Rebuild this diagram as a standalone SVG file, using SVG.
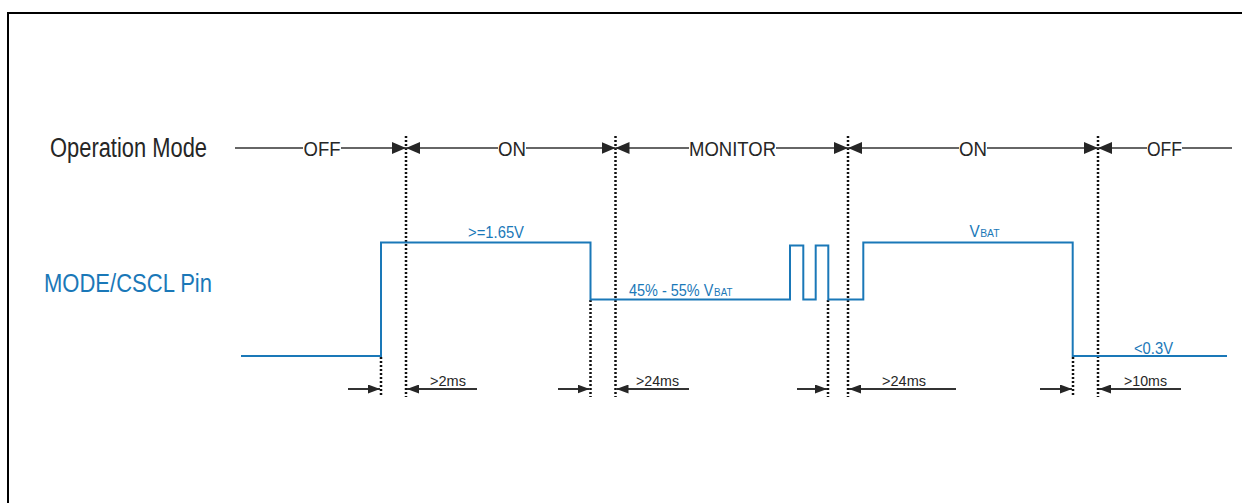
<svg xmlns="http://www.w3.org/2000/svg" width="1242" height="503" viewBox="0 0 1242 503">
  <style>
    .lbl { font-family: "Liberation Sans", Arial, sans-serif; fill: #262626; }
    .blue { font-family: "Liberation Sans", Arial, sans-serif; fill: #1a78b8; }
    .axis { stroke: #333333; stroke-width: 1.5; fill: none; }
    .tarr { stroke: #333333; stroke-width: 2; fill: none; }
    .dot { stroke: #111111; stroke-width: 2.5; stroke-dasharray: 2 2; fill: none; }
    .wave { stroke: #1a78b8; stroke-width: 2; fill: none; }
  </style>
  <defs>
    <marker id="ah" markerUnits="userSpaceOnUse" markerWidth="14" markerHeight="12" refX="14" refY="6" orient="auto-start-reverse">
      <path d="M0,0 L14,6 L0,12 Z" fill="#262626"/>
    </marker>
    <marker id="sa" markerUnits="userSpaceOnUse" markerWidth="12" markerHeight="9" refX="12" refY="4.5" orient="auto-start-reverse">
      <path d="M0,0 L12,4.5 L0,9 Z" fill="#262626"/>
    </marker>
  </defs>
  <rect x="8" y="13" width="1250" height="500" fill="#ffffff" stroke="#000000" stroke-width="2"/>

  <g id="row-labels">
    <text class="lbl" x="50" y="157" font-size="27" textLength="157" lengthAdjust="spacingAndGlyphs">Operation Mode</text>
    <text class="blue" x="44" y="292" font-size="26" textLength="168" lengthAdjust="spacingAndGlyphs">MODE/CSCL Pin</text>
  </g>

  <g id="boundaries">
    <line class="dot" x1="406" y1="136" x2="406" y2="397"/>
    <line class="dot" x1="615.5" y1="136" x2="615.5" y2="397"/>
    <line class="dot" x1="848" y1="136" x2="848" y2="397"/>
    <line class="dot" x1="1098" y1="136" x2="1098" y2="397"/>
    <line class="dot" x1="381" y1="357" x2="381" y2="397"/>
    <line class="dot" x1="590.5" y1="300" x2="590.5" y2="397"/>
    <line class="dot" x1="828" y1="300" x2="828" y2="397"/>
    <line class="dot" x1="1073" y1="357" x2="1073" y2="397"/>
  </g>

  <g id="connectors">
    <line class="axis" x1="235" y1="148" x2="303" y2="148"/>
    <line class="axis" x1="341" y1="148" x2="406" y2="148" marker-end="url(#ah)"/>
    <line class="axis" x1="406" y1="148" x2="498" y2="148" marker-start="url(#ah)"/>
    <line class="axis" x1="526" y1="148" x2="615.5" y2="148" marker-end="url(#ah)"/>
    <line class="axis" x1="615.5" y1="148" x2="689" y2="148" marker-start="url(#ah)"/>
    <line class="axis" x1="776" y1="148" x2="848" y2="148" marker-end="url(#ah)"/>
    <line class="axis" x1="848" y1="148" x2="959" y2="148" marker-start="url(#ah)"/>
    <line class="axis" x1="987" y1="148" x2="1098" y2="148" marker-end="url(#ah)"/>
    <line class="axis" x1="1098" y1="148" x2="1147" y2="148" marker-start="url(#ah)"/>
    <line class="axis" x1="1182" y1="148" x2="1232" y2="148"/>

    <line class="tarr" x1="348" y1="389" x2="380" y2="389" marker-end="url(#sa)"/>
    <line class="tarr" x1="407" y1="389" x2="477" y2="389" marker-start="url(#sa)"/>
    <line class="tarr" x1="558" y1="389" x2="589.5" y2="389" marker-end="url(#sa)"/>
    <line class="tarr" x1="616.5" y1="389" x2="689" y2="389" marker-start="url(#sa)"/>
    <line class="tarr" x1="797" y1="389" x2="827" y2="389" marker-end="url(#sa)"/>
    <line class="tarr" x1="849" y1="389" x2="956" y2="389" marker-start="url(#sa)"/>
    <line class="tarr" x1="1040" y1="389" x2="1072" y2="389" marker-end="url(#sa)"/>
    <line class="tarr" x1="1099" y1="389" x2="1181" y2="389" marker-start="url(#sa)"/>
  </g>

  <g id="mode-labels">
    <text class="lbl" x="322" y="155.5" font-size="20" text-anchor="middle" textLength="37" lengthAdjust="spacingAndGlyphs">OFF</text>
    <text class="lbl" x="512" y="155.5" font-size="20" text-anchor="middle" textLength="28" lengthAdjust="spacingAndGlyphs">ON</text>
    <text class="lbl" x="732.5" y="155.5" font-size="20" text-anchor="middle" textLength="87" lengthAdjust="spacingAndGlyphs">MONITOR</text>
    <text class="lbl" x="973" y="155.5" font-size="20" text-anchor="middle" textLength="28" lengthAdjust="spacingAndGlyphs">ON</text>
    <text class="lbl" x="1164.5" y="155.5" font-size="20" text-anchor="middle" textLength="35" lengthAdjust="spacingAndGlyphs">OFF</text>
  </g>

  <g id="waveform">
    <path class="wave" d="M241,356 H381 V242.5 H590.5 V299.5 H790 V245.5 H803.3 V299.5 H815.7 V245.5 H828.3 V299.5 H863.3 V242.5 H1072.7 V356 H1227"/>
  </g>

  <g id="levels">
    <text class="blue" x="468" y="238" font-size="16.5" textLength="56" lengthAdjust="spacingAndGlyphs">&gt;=1.65V</text>
    <text class="blue" transform="translate(629,296) scale(0.85,1)" font-size="17">45% - 55% V<tspan font-size="11.5" dx="1">BAT</tspan></text>
    <text class="blue" transform="translate(969.5,236.5) scale(0.9,1)" font-size="17">V<tspan font-size="11.5" dx="0.5">BAT</tspan></text>
    <text class="blue" x="1134" y="353.5" font-size="16.5" textLength="39" lengthAdjust="spacingAndGlyphs">&lt;0.3V</text>
  </g>

  <g id="timing-labels">
    <text class="lbl" x="430" y="385.5" font-size="15.5" textLength="36" lengthAdjust="spacingAndGlyphs">&gt;2ms</text>
    <text class="lbl" x="636" y="385.5" font-size="15.5" textLength="43" lengthAdjust="spacingAndGlyphs">&gt;24ms</text>
    <text class="lbl" x="882" y="385.5" font-size="15.5" textLength="44" lengthAdjust="spacingAndGlyphs">&gt;24ms</text>
    <text class="lbl" x="1124" y="385.5" font-size="15.5" textLength="43" lengthAdjust="spacingAndGlyphs">&gt;10ms</text>
  </g>
</svg>
